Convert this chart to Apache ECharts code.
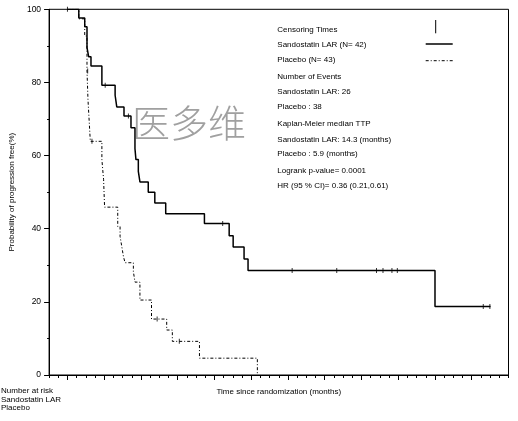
<!DOCTYPE html>
<html lang="zh">
<head>
<meta charset="UTF-8">
<title>TTP</title>
<script src="https://cdn.jsdelivr.net/npm/echarts@6/dist/echarts.min.js"></script>
<style>
    html, body { margin: 0; padding: 0; background: #fff; }
    #main { width: 518px; height: 421px; }
</style>
</head>
<body>
<div id="main"></div>
<script type="text/javascript">

    // Sandostatin LAR: time (months) of each drop and the survival (%) after it
    var lanTimes = [0, 1.85, 2.82, 3.19, 3.47, 3.84, 5.62, 7.78, 8.05, 9.23, 10.37, 11.02, 11.18, 11.57, 11.83, 13.19, 14.26, 16.04, 22.36, 26.4, 27.05, 28.83, 29.48, 60.0, 69.07];
    var lanSurv = [100, 97.6, 95.2, 89.5, 87.0, 84.5, 79.2, 76.5, 73.3, 70.8, 67.6, 61.9, 58.9, 55.7, 52.8, 50.0, 47.0, 44.1, 41.4, 38.1, 35.0, 31.7, 28.6, 18.7, 18.7];
    var lanCensored = [0, 6.16, 9.95, 25.34, 36.68, 43.96, 50.45, 51.51, 52.97, 53.85, 67.88, 68.96];

    // Placebo
    var plaTimes = [0, 1.85, 2.82, 3.19, 3.35, 3.56, 3.73, 5.62, 5.9, 6.06, 8.21, 8.59, 8.86, 9.14, 9.4, 10.76, 11.02, 11.83, 13.72, 16.2, 17.12, 21.55, 31.0];
    var plaSurv = [100, 97.4, 92.7, 83.1, 75.3, 69.0, 63.9, 58.9, 53.4, 45.9, 40.6, 37.9, 35.2, 32.4, 30.7, 28.3, 25.4, 20.5, 15.3, 12.3, 9.2, 4.6, 0];
    var plaCensored = [3.3, 4.0, 14.64, 18.26];

    var xMajor = [0, 6, 12, 18, 24, 30, 36, 42, 48, 54, 60, 66];

    var legendLines = [
        ['Censoring Times', 29.3],
        ['Sandostatin LAR (N= 42)', 44.3],
        ['Placebo (N= 43)', 60],
        ['Number of Events', 76.7],
        ['Sandostatin LAR: 26', 91.7],
        ['Placebo : 38', 106.7],
        ['Kaplan-Meier median TTP', 124],
        ['Sandostatin LAR: 14.3 (months)', 139.3],
        ['Placebo : 5.9 (months)', 154],
        ['Logrank p-value= 0.0001', 170.7],
        ['HR (95 % CI)= 0.36 (0.21,0.61)', 186]
    ];
    var riskLines = [['Number at risk', 390.7], ['Sandostatin LAR', 399.5], ['Placebo', 408]];

    var FONT = 'Liberation Sans';

    function pairs(ts, ss) {
        return ts.map(function (t, i) { return [t, ss[i]]; });
    }
    // value of the step curve at time t
    function survAt(ts, ss, t) {
        var v = ss[0];
        for (var i = 0; i < ts.length; i++) {
            if (ts[i] <= t) v = ss[i];
        }
        return v;
    }
    function censorPts(cs, ts, ss) {
        return cs.map(function (t) { return [t, survAt(ts, ss, t)]; });
    }

    var graphics = [{
        type: 'text', left: 132, top: 104,
        style: { text: '医多维', font: '300 38px "Noto Sans CJK SC"', fill: '#a0a0a0' }
    }];
    legendLines.forEach(function (l) {
        graphics.push({
            type: 'text', x: 277.3, y: l[1],
            style: { text: l[0], font: '8px "' + FONT + '"', fill: '#000', textVerticalAlign: 'middle' }
        });
    });
    riskLines.forEach(function (l) {
        graphics.push({
            type: 'text', x: 1, y: l[1],
            style: { text: l[0], font: '8px "' + FONT + '"', fill: '#000', textVerticalAlign: 'middle' }
        });
    });
    graphics.push(
        { type: 'line', shape: { x1: 435.7, y1: 20, x2: 435.7, y2: 33.3 }, style: { stroke: '#000', lineWidth: 1 } },
        { type: 'line', shape: { x1: 425.7, y1: 44, x2: 452.7, y2: 44 }, style: { stroke: '#000', lineWidth: 1.5 } },
        { type: 'line', shape: { x1: 425.7, y1: 60.7, x2: 452.7, y2: 60.7 }, style: { stroke: '#000', lineWidth: 1, lineDash: [3, 2, 1, 2] } }
    );

    var myChart = echarts.init(document.getElementById('main'));
    var option = {
        animation: false,
        backgroundColor: '#fff',
        grid: {
            left: 46.7, right: 9.5, top: 9.3, bottom: 46,
            show: true, borderColor: '#000', borderWidth: 1
        },
        xAxis: [{
            type: 'value', min: -3, max: 72, interval: 1.5,
            position: 'bottom',
            name: 'Time since randomization (months)',
            nameLocation: 'middle', nameGap: 13,
            nameTextStyle: { fontSize: 8, color: '#000', fontFamily: FONT },
            axisLine: { show: true, onZero: false, lineStyle: { color: '#000' } },
            axisTick: { show: true, length: 3, lineStyle: { color: '#000' } },
            axisLabel: { show: false },
            splitLine: { show: false }
        }, {
            type: 'value', min: -3, max: 72,
            position: 'bottom',
            axisLine: { show: false, onZero: false },
            axisTick: { show: true, length: 5, customValues: xMajor, lineStyle: { color: '#000' } },
            axisLabel: { show: false },
            splitLine: { show: false }
        }],
        yAxis: {
            type: 'value', min: 0, max: 100, interval: 20,
            name: 'Probability of progression free(%)',
            nameLocation: 'middle', nameGap: 33,
            nameTextStyle: { fontSize: 8, color: '#000', fontFamily: FONT },
            axisLine: { show: true, onZero: false, lineStyle: { color: '#000' } },
            axisTick: { show: true, length: 5, lineStyle: { color: '#000' } },
            minorTick: { show: true, splitNumber: 2, length: 2, lineStyle: { color: '#000' } },
            axisLabel: { fontSize: 8.5, color: '#000', fontFamily: FONT, margin: 8 },
            splitLine: { show: false }
        },
        graphic: graphics,
        series: [
            {
                name: 'Sandostatin LAR', type: 'line', step: 'end', symbol: 'none',
                data: pairs(lanTimes, lanSurv),
                lineStyle: { color: '#000', width: 1.5 }
            },
            {
                name: 'Placebo', type: 'line', step: 'end', symbol: 'none',
                data: pairs(plaTimes, plaSurv),
                lineStyle: { color: '#000', width: 1, type: [3, 2, 1, 2] }
            },
            {
                type: 'scatter', symbol: 'rect', symbolSize: [1, 5],
                data: censorPts(lanCensored, lanTimes, lanSurv),
                itemStyle: { color: '#000' }
            },
            {
                type: 'scatter', symbol: 'rect', symbolSize: [1, 5],
                data: censorPts(plaCensored, plaTimes, plaSurv),
                itemStyle: { color: '#000' }
            }
        ]
    };
    myChart.setOption(option);

</script>
</body>
</html>
